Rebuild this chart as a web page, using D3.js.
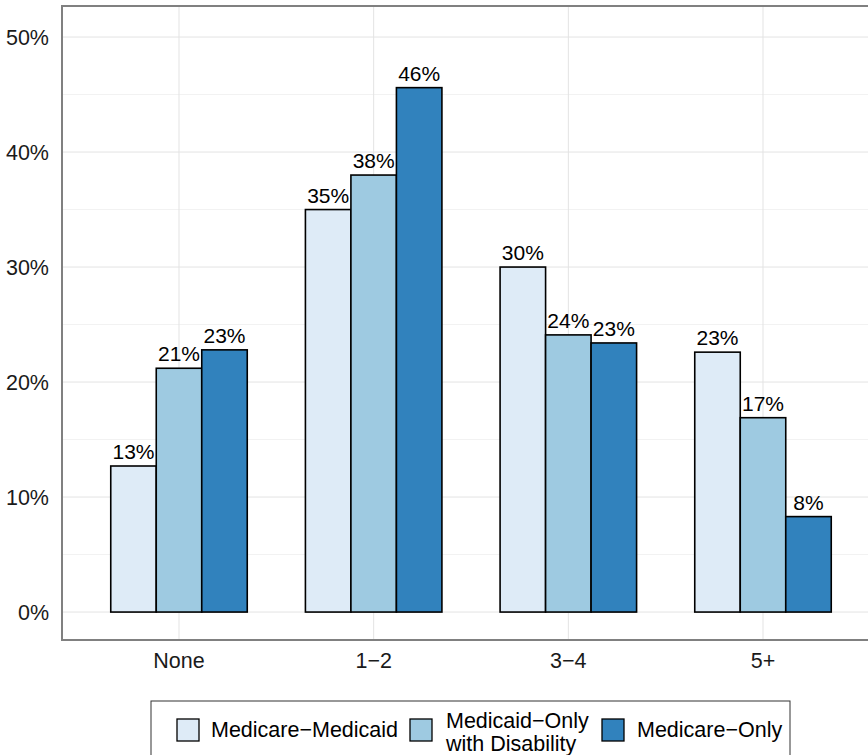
<!DOCTYPE html>
<html>
<head>
<meta charset="utf-8">
<script src="https://cdn.jsdelivr.net/npm/d3@7"></script>
<style>
  body { margin: 0; background: #fff; }
  svg { font-family: "Liberation Sans", Arial, sans-serif; }
</style>
</head>
<body>
<div id="chart"></div>
<script>
const categories = ['None', '1\u22122', '3\u22124', '5+'];
const seriesNames = ['Medicare\u2212Medicaid', 'Medicaid\u2212Only with Disability', 'Medicare\u2212Only'];
const medicareMedicaid = [12.7, 35.0, 30.0, 22.6];
const medicaidDisability = [21.2, 38.0, 24.1, 16.9];
const medicareOnly = [22.8, 45.6, 23.4, 8.3];
const yTicks = [0, 10, 20, 30, 40, 50];
const colors = ['#deebf7', '#9ecae1', '#3182bd'];

const width = 868, height = 755;
const panel = { left: 62, top: 6, right: 880, bottom: 640 };
const fs = 21.5;

const series = [medicareMedicaid, medicaidDisability, medicareOnly];
const data = categories.map((c, i) => ({ cat: c, values: series.map((s, j) => ({ key: j, v: s[i] })) }));

const svg = d3.select('#chart').append('svg')
  .attr('width', width)
  .attr('height', height);

const y = d3.scaleLinear().domain([-2.43, 52.7]).range([panel.bottom, panel.top]);
const x = d3.scalePoint().domain(categories)
  .range([panel.left + 117, panel.right - 117]);
const bandW = 195 * 0.7;
const x1 = d3.scaleBand().domain([0, 1, 2]).range([-bandW / 2, bandW / 2]);

// grid
const g = svg.append('g');
d3.range(5, 55, 10).forEach(t => {
  g.append('line').attr('x1', panel.left).attr('x2', width)
    .attr('y1', y(t)).attr('y2', y(t)).attr('stroke', '#f2f2f2').attr('stroke-width', 1);
});
yTicks.forEach(t => {
  g.append('line').attr('x1', panel.left).attr('x2', width)
    .attr('y1', y(t)).attr('y2', y(t)).attr('stroke', '#e3e3e3').attr('stroke-width', 1);
});
categories.forEach(c => {
  g.append('line').attr('x1', x(c)).attr('x2', x(c))
    .attr('y1', panel.top).attr('y2', panel.bottom).attr('stroke', '#e3e3e3').attr('stroke-width', 1);
});

// bars
const groups = svg.selectAll('.grp').data(data).enter().append('g')
  .attr('class', 'grp')
  .attr('transform', d => `translate(${x(d.cat)},0)`);

groups.selectAll('rect').data(d => d.values).enter().append('rect')
  .attr('x', d => x1(d.key))
  .attr('width', x1.bandwidth())
  .attr('y', d => y(d.v))
  .attr('height', d => y(0) - y(d.v))
  .attr('fill', d => colors[d.key])
  .attr('stroke', '#000')
  .attr('stroke-width', 1.6);

groups.selectAll('text').data(d => d.values).enter().append('text')
  .attr('x', d => x1(d.key) + x1.bandwidth() / 2)
  .attr('y', d => y(d.v) - 7)
  .attr('text-anchor', 'middle')
  .attr('font-size', 21)
  .attr('fill', '#000')
  .text(d => Math.round(d.v) + '%');

// panel border
svg.append('rect')
  .attr('x', panel.left).attr('y', panel.top)
  .attr('width', panel.right - panel.left).attr('height', panel.bottom - panel.top)
  .attr('fill', 'none').attr('stroke', '#808080').attr('stroke-width', 2);

// axes labels
yTicks.forEach(t => {
  svg.append('text').attr('x', 49).attr('y', y(t)).attr('dy', '0.36em')
    .attr('text-anchor', 'end').attr('font-size', fs).attr('fill', '#1a1a1a')
    .text(t + '%');
});
categories.forEach(c => {
  svg.append('text').attr('x', x(c)).attr('y', 668)
    .attr('text-anchor', 'middle').attr('font-size', fs).attr('fill', '#1a1a1a')
    .text(c);
});

// legend
const leg = svg.append('g');
leg.append('rect').attr('x', 151).attr('y', 701).attr('width', 639).attr('height', 70)
  .attr('fill', '#fff').attr('stroke', '#333').attr('stroke-width', 1);
const keyX = [177, 410, 602];
const textX = [211, 446, 637];
seriesNames.forEach((name, i) => {
  leg.append('rect').attr('x', keyX[i]).attr('y', 719).attr('width', 22).attr('height', 22)
    .attr('fill', colors[i]).attr('stroke', '#000').attr('stroke-width', 1.3);
  if (i === 1) {
    leg.append('text').attr('x', textX[i]).attr('y', 728).attr('font-size', fs).text('Medicaid\u2212Only');
    leg.append('text').attr('x', textX[i]).attr('y', 751).attr('font-size', fs).text('with Disability');
  } else {
    leg.append('text').attr('x', textX[i]).attr('y', 737).attr('font-size', fs).text(name);
  }
});
</script>
</body>
</html>
